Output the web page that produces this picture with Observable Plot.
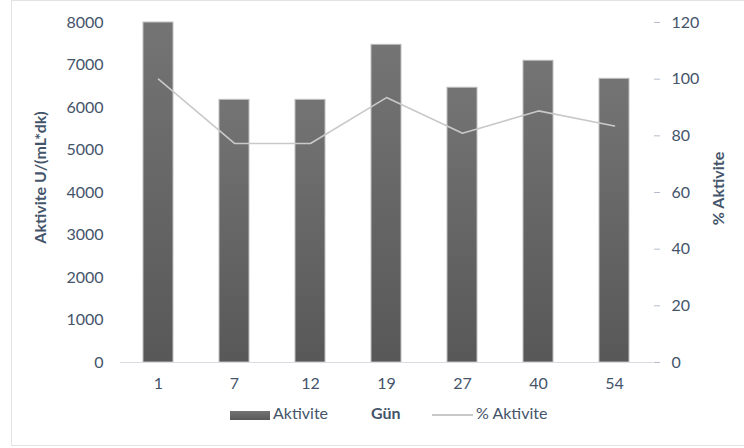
<!DOCTYPE html>
<html>
<head>
<meta charset="utf-8">
<script src="https://cdn.jsdelivr.net/npm/d3@7"></script>
<script src="https://cdn.jsdelivr.net/npm/@observablehq/plot@0.6"></script>
<style>
  body { margin: 0; background: #fff; font-family: Lato, "Open Sans", sans-serif; }
  #wrap { position: relative; width: 744px; height: 448px; overflow: hidden; }
  #frame { position: absolute; left: 11px; top: 0; width: 740px; height: 446px; box-sizing: border-box; border: 1px solid #e3e3e3; }
  #chart { position: absolute; left: 0; top: 0; }
  #legend { position: absolute; left: 0; top: 400px; width: 744px; height: 30px; font-size: 16px; color: #44546a; }
  #legend span { position: absolute; top: 3px; white-space: nowrap; }
</style>
</head>
<body>
<div id="wrap">
  <div id="frame"></div>
  <div id="chart"></div>
  <div id="legend">
    <span style="left:230px;top:11px;width:40px;height:9px;background:linear-gradient(#737373,#595959);"></span>
    <span style="left:273px;">Aktivite</span>
    <span style="left:371px;font-weight:bold;">Gün</span>
    <span style="left:432px;top:14px;width:41px;height:1.5px;background:#c9c9c9;"></span>
    <span style="left:476px;">% Aktivite</span>
  </div>
</div>
<script>
const days = ["1", "7", "12", "19", "27", "40", "54"];
const activity = [8000, 6180, 6180, 7475, 6465, 7100, 6675];
const percent = [100, 77.3, 77.3, 93.5, 80.9, 88.8, 83.5];
const leftTicks = [0, 1000, 2000, 3000, 4000, 5000, 6000, 7000, 8000];
const rightTicks = [0, 20, 40, 60, 80, 100, 120];
const leftMax = 8000, rightMax = 120;
const toLeft = v => v * leftMax / rightMax;

const rows = days.map((d, i) => ({day: d, act: activity[i], pct: percent[i]}));

const textColor = "#44546a";

const plot = Plot.plot({
  width: 744,
  height: 400,
  marginLeft: 120,
  marginRight: 91,
  marginTop: 22,
  marginBottom: 38,
  style: {fontFamily: "Lato, 'Open Sans', sans-serif", fontSize: "16px", color: textColor, background: "transparent", overflow: "visible"},
  x: {domain: days, paddingInner: 0.6, paddingOuter: 0.3, label: null},
  y: {domain: [0, leftMax], label: null},
  marks: [
    Plot.barY(rows, {x: "day", y: "act", fill: "url(#barGrad)", stroke: "#bfbfbf", strokeWidth: 1}),
    Plot.line(rows, {x: "day", y: d => toLeft(d.pct), stroke: "#c9c9c9", strokeWidth: 1.6}),
    Plot.ruleY([0], {stroke: "#d9dce3", strokeWidth: 1}),
    Plot.axisY({anchor: "left", ticks: leftTicks, tickFormat: d3.format("d"), tickSize: 0, tickPadding: 17, label: null, fill: textColor}),
    Plot.ruleX([0], {frameAnchor: "left", stroke: "#d6dce5"}),
    Plot.axisY({anchor: "right", ticks: rightTicks.map(toLeft), tickFormat: v => String(Math.round(v * rightMax / leftMax)), tickSize: 6, tickPadding: 12, stroke: "#b4bccb", label: null, fill: textColor}),
    Plot.ruleX([0], {frameAnchor: "right", stroke: "#b4bccb"}),
    Plot.axisX({tickSize: 0, tickPadding: 15, label: null, fill: textColor}),
    Plot.text(["Aktivite U/(mL*dk)"], {frameAnchor: "left", textAnchor: "middle", rotate: -90, dx: -80, dy: -15, fontWeight: "bold", fontSize: 16, fill: textColor}),
    Plot.text(["% Aktivite"], {frameAnchor: "right", textAnchor: "middle", rotate: -90, dx: 65, dy: -4, fontWeight: "bold", fontSize: 16, fill: textColor})
  ]
});

const svg = d3.select(plot);
const defs = svg.insert("defs", ":first-child");
const g = defs.append("linearGradient").attr("id", "barGrad").attr("x1", 0).attr("y1", 0).attr("x2", 0).attr("y2", 1);
g.append("stop").attr("offset", "0%").attr("stop-color", "#747474");
g.append("stop").attr("offset", "100%").attr("stop-color", "#585858");

document.getElementById("chart").appendChild(plot);
</script>
</body>
</html>
